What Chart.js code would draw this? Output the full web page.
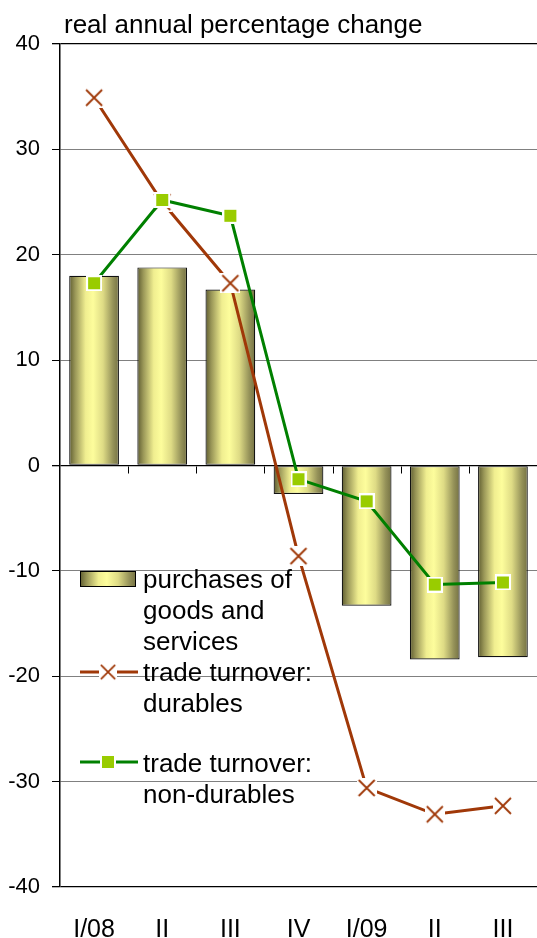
<!DOCTYPE html>
<html>
<head>
<meta charset="utf-8">
<script src="https://cdn.jsdelivr.net/npm/chart.js@4.4.1/dist/chart.umd.min.js"></script>
<style>
  html, body { margin: 0; padding: 0; background: #fff; }
  #wrap { position: relative; width: 537px; height: 938px; }
</style>
</head>
<body>
<div id="wrap"><canvas id="chart"></canvas></div>
<script>
(function () {
    'use strict';

    const quarters = ['I/08', 'II', 'III', 'IV', 'I/09', 'II', 'III'];
    const purchases = [18.0, 18.8, 16.7, -2.7, -13.3, -18.4, -18.2];
    const durables = [34.9, 25.0, 17.3, -8.6, -30.6, -33.1, -32.3];
    const nonDurables = [17.3, 25.2, 23.7, -1.3, -3.4, -11.3, -11.1];

    const yMin = -40;
    const yMax = 40;
    const yStep = 10;

    const titleText = 'real annual percentage change';
    const legendLines = [
        ['purchases of', 'goods and', 'services'],
        ['trade turnover:', 'durables'],
        ['trade turnover:', 'non-durables']
    ];

    const FONT = '"Liberation Sans", Arial, sans-serif';
    const BROWN = '#a03808';
    const GREEN = '#008000';
    const LIME = '#99cc00';
    const BAR_PCT = 0.73;

    // cylinder-like shading across a bar
    function shade(ctx, x0, x1) {
        const g = ctx.createLinearGradient(x0, 0, x1, 0);
        g.addColorStop(0, '#5e5c30');
        g.addColorStop(0.12, '#9a9758');
        g.addColorStop(0.33, '#f0ee90');
        g.addColorStop(0.48, '#fdfd9c');
        g.addColorStop(0.68, '#dedb85');
        g.addColorStop(0.88, '#959259');
        g.addColorStop(1, '#747143');
        return g;
    }

    function barFill(context) {
        const chart = context.chart;
        const x = chart.scales.x;
        if (!x || context.type !== 'data') return '#f0ee90';
        const center = x.getPixelForValue(context.dataIndex);
        const half = (x.width / quarters.length) * BAR_PCT / 2;
        if (!isFinite(center) || !isFinite(half) || half <= 0) return '#f0ee90';
        return shade(chart.ctx, center - half, center + half);
    }

    // marker: brown cross on a white box
    function crossMarker() {
        const c = document.createElement('canvas');
        c.width = 20; c.height = 20;
        const g = c.getContext('2d');
        g.fillStyle = '#fff';
        g.fillRect(0, 0, 20, 20);
        g.strokeStyle = BROWN;
        g.lineWidth = 1.8;
        g.beginPath();
        g.moveTo(2, 2); g.lineTo(18, 18);
        g.moveTo(18, 2); g.lineTo(2, 18);
        g.stroke();
        return c;
    }

    // marker: lime square with white rim
    function squareMarker() {
        const c = document.createElement('canvas');
        c.width = 16; c.height = 16;
        const g = c.getContext('2d');
        g.fillStyle = '#fff';
        g.fillRect(0, 0, 16, 16);
        g.fillStyle = LIME;
        g.fillRect(2, 2, 12, 12);
        return c;
    }

    const cross = crossMarker();
    const square = squareMarker();

    const decorPlugin = {
        id: 'decor',
        beforeDatasetsDraw(chart) {
            // small category ticks hanging under the zero line
            const ctx = chart.ctx;
            const x = chart.scales.x;
            const y0 = Math.round(chart.scales.y.getPixelForValue(0)) + 0.5;
            const step = x.width / quarters.length;
            ctx.save();
            ctx.strokeStyle = '#000';
            ctx.lineWidth = 1;
            ctx.beginPath();
            for (let i = 1; i < quarters.length; i++) {
                const px = Math.round(x.left + step * i) + 0.5;
                ctx.moveTo(px, y0);
                ctx.lineTo(px, y0 + 7);
            }
            ctx.stroke();
            ctx.restore();
        },
        afterDraw(chart) {
            const ctx = chart.ctx;
            const area = chart.chartArea;
            ctx.save();

            // title above the plot
            ctx.fillStyle = '#000';
            ctx.font = '26px ' + FONT;
            ctx.textBaseline = 'alphabetic';
            ctx.textAlign = 'left';
            ctx.fillText(titleText, area.left + 4, 33);

            // legend inside the plot
            const sx = area.left + 20;
            const tx = area.left + 83;
            const lh = 31;
            ctx.font = '26px ' + FONT;

            // bars
            ctx.fillStyle = shade(ctx, sx, sx + 56);
            ctx.fillRect(sx, 571, 56, 16);
            ctx.strokeStyle = '#000';
            ctx.lineWidth = 1;
            ctx.strokeRect(sx + 0.5, 571.5, 55, 15);
            ctx.fillStyle = '#000';
            legendLines[0].forEach((t, i) => ctx.fillText(t, tx, 588 + lh * i));

            // durables
            ctx.strokeStyle = BROWN;
            ctx.lineWidth = 3;
            ctx.beginPath();
            ctx.moveTo(sx, 672); ctx.lineTo(sx + 58, 672);
            ctx.stroke();
            ctx.drawImage(cross, sx + 28 - 9, 672 - 9, 18, 18);
            ctx.fillStyle = '#000';
            legendLines[1].forEach((t, i) => ctx.fillText(t, tx, 681 + lh * i));

            // non-durables
            ctx.strokeStyle = GREEN;
            ctx.beginPath();
            ctx.moveTo(sx, 762); ctx.lineTo(sx + 58, 762);
            ctx.stroke();
            ctx.drawImage(square, sx + 28 - 8, 762 - 8);
            ctx.fillStyle = '#000';
            legendLines[2].forEach((t, i) => ctx.fillText(t, tx, 772 + lh * i));

            ctx.restore();
        }
    };

    const strongLine = v => v === 0 || v === yMin || v === yMax;

    new Chart(document.getElementById('chart'), {
        type: 'bar',
        data: {
            labels: quarters,
            datasets: [
                {
                    label: 'purchases of goods and services',
                    data: purchases,
                    backgroundColor: barFill,
                    borderColor: '#111',
                    borderWidth: 1.2,
                    borderSkipped: false,
                    categoryPercentage: 1,
                    barPercentage: BAR_PCT,
                    order: 3
                },
                {
                    type: 'line',
                    label: 'trade turnover: durables',
                    data: durables,
                    borderColor: BROWN,
                    borderWidth: 3,
                    tension: 0,
                    pointStyle: cross,
                    pointRadius: 9,
                    order: 2
                },
                {
                    type: 'line',
                    label: 'trade turnover: non-durables',
                    data: nonDurables,
                    borderColor: GREEN,
                    borderWidth: 3,
                    tension: 0,
                    pointStyle: square,
                    pointRadius: 8,
                    order: 1
                }
            ]
        },
        options: {
            responsive: true,
            maintainAspectRatio: false,
            animation: false,
            layout: {
                autoPadding: false,
                padding: { top: 44, right: 0, bottom: 0, left: 0 }
            },
            plugins: {
                legend: { display: false },
                title: { display: false },
                tooltip: { enabled: false }
            },
            scales: {
                x: {
                    grid: { display: false, drawTicks: false },
                    border: { display: false },
                    ticks: {
                        color: '#000',
                        font: { family: FONT, size: 25 },
                        padding: 28,
                        maxRotation: 0,
                        autoSkip: false
                    },
                    afterFit(scale) {
                        scale.height = 51;
                        // let the plot run to the right edge
                        scale.paddingLeft = 0;
                        scale.paddingRight = 0;
                    }
                },
                y: {
                    min: yMin,
                    max: yMax,
                    grid: {
                        color: ctx => strongLine(ctx.tick.value) ? '#000' : '#808080',
                        lineWidth: ctx => strongLine(ctx.tick.value) ? 1.3 : 1,
                        tickColor: '#000',
                        tickLength: 8,
                        drawTicks: true
                    },
                    border: { display: true, color: '#000', width: 1.5 },
                    ticks: {
                        stepSize: yStep,
                        color: '#000',
                        font: { family: FONT, size: 22 },
                        padding: 12
                    },
                    afterFit(scale) { scale.width = 60; }
                }
            }
        },
        plugins: [decorPlugin]
    });
})();
</script>
</body>
</html>
